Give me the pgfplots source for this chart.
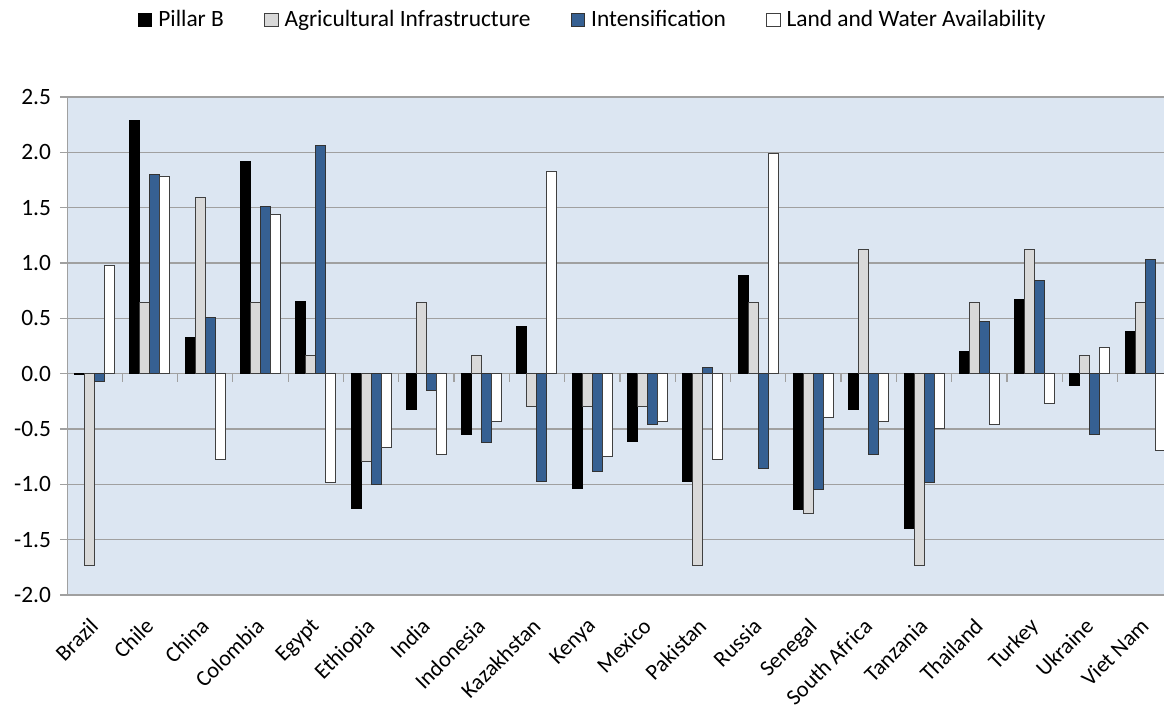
\documentclass[border=0pt]{standalone}
\usepackage{pgfplots}
\pgfplotsset{compat=1.18}
\usepackage{fontspec}
\setmainfont{Carlito}
\definecolor{plotbg}{RGB}{220,230,242}
\definecolor{gridc}{RGB}{160,160,160}
\definecolor{barblue}{RGB}{54,96,146}
\definecolor{bargray}{RGB}{217,217,217}
\pgfplotstableread{
x pillar agri intens land
0 -0.01 -1.73 -0.07 0.98
1 2.29 0.64 1.80 1.78
2 0.33 1.59 0.51 -0.78
3 1.92 0.64 1.51 1.44
4 0.65 0.16 2.06 -0.98
5 -1.22 -0.79 -1.00 -0.67
6 -0.32 0.64 -0.15 -0.73
7 -0.55 0.16 -0.62 -0.43
8 0.43 -0.30 -0.97 1.83
9 -1.04 -0.30 -0.88 -0.75
10 -0.61 -0.30 -0.46 -0.43
11 -0.97 -1.73 0.06 -0.78
12 0.89 0.64 -0.86 1.99
13 -1.23 -1.26 -1.05 -0.40
14 -0.32 1.12 -0.73 -0.43
15 -1.40 -1.73 -0.98 -0.50
16 0.20 0.64 0.47 -0.46
17 0.67 1.12 0.84 -0.27
18 -0.11 0.16 -0.55 0.24
19 0.38 0.64 1.03 -0.69
}\datatable
\begin{document}
\begin{tikzpicture}
\begin{axis}[
  at={(33.5pt,55pt)}, anchor=south west,
  scale only axis, width=548.5pt, height=249pt,
  xmin=-0.5, xmax=19.34, ymin=-2, ymax=2.5,
  ybar=0pt, bar width=5pt,
  axis background/.style={fill=plotbg},
  axis line style={gridc},
  ymajorgrids, grid style={gridc, line width=0.6pt},
  ytick={-2,-1.5,...,2.5},
  /pgf/number format/fixed,
  /pgf/number format/fixed zerofill,
  /pgf/number format/precision=1,
  /pgf/number format/assume math mode=true,
  ytick style={gridc, line width=0.6pt},
  tick align=outside, major tick length=3.5pt,
  xtick={0,...,19},
  xticklabels={Brazil,Chile,China,Colombia,Egypt,Ethiopia,India,Indonesia,Kazakhstan,Kenya,Mexico,Pakistan,Russia,Senegal,South Africa,Tanzania,Thailand,Turkey,Ukraine,Viet Nam},
  x tick style={draw=none},
  xticklabel style={rotate=45, anchor=north east, font=\fontsize{11.2}{13}\selectfont, inner sep=0pt, xshift=-7.2pt, yshift=-2.9pt},
  yticklabel style={font=\fontsize{11.7}{13}\selectfont, xshift=-1pt},
  every axis plot/.append style={line width=0.5pt},
  legend style={at={(0.481,1.155)}, anchor=center, draw=none, fill=none,
    legend columns=4, font=\fontsize{11.7}{13}\selectfont,
    /tikz/every odd column/.append style={column sep=0pt},
    /tikz/every even column/.append style={column sep=17pt},
    nodes={inner xsep=3pt}},
  legend image code/.code={\draw[#1, line width=0.5pt] (0pt,-3.4pt) rectangle (6.8pt,3.4pt);},
]
\addplot[fill=black, draw=black] table[x=x, y=pillar] {\datatable};
\addplot[fill=bargray, draw=black!75] table[x=x, y=agri] {\datatable};
\addplot[fill=barblue, draw=black!80] table[x=x, y=intens] {\datatable};
\addplot[fill=white, draw=black!75] table[x=x, y=land] {\datatable};
\legend{Pillar B, Agricultural Infrastructure, Intensification, Land and Water Availability}
\pgfplotsinvokeforeach{0.5,1.5,...,18.5}{
  \draw[gridc, line width=0.6pt] (axis cs:#1,0) -- ([yshift=-4pt]axis cs:#1,0);
}
\end{axis}
\pgfresetboundingbox
\path (0,0) rectangle (582pt,352.5pt);
\end{tikzpicture}
\end{document}
